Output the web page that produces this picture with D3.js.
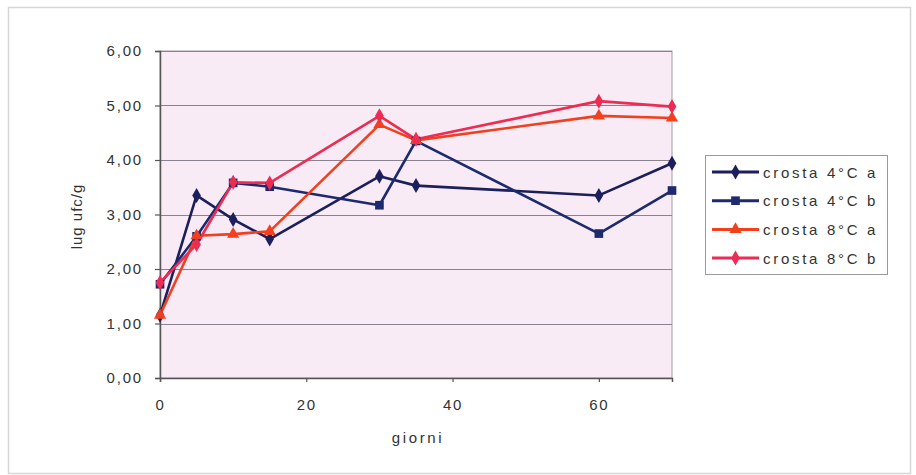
<!DOCTYPE html>
<html>
<head>
<meta charset="utf-8">
<script src="https://cdn.jsdelivr.net/npm/d3@7"></script>
<style>
  html, body { margin: 0; padding: 0; background: #ffffff; }
  svg { display: block; }
  text { font-family: "Liberation Sans", Arial, sans-serif; fill: #333; }
</style>
</head>
<body>
<svg id="chart" width="916" height="475"></svg>
<script>
// ---- data ----
const days = [0, 5, 10, 15, 30, 35, 60, 70];
const crosta4a = [1.15, 3.35, 2.91, 2.55, 3.70, 3.53, 3.35, 3.94];
const crosta4b = [1.72, 2.60, 3.58, 3.51, 3.17, 4.35, 2.65, 3.44];
const crosta8a = [1.15, 2.61, 2.64, 2.69, 4.65, 4.36, 4.81, 4.77];
const crosta8b = [1.75, 2.45, 3.59, 3.58, 4.81, 4.38, 5.08, 4.98];
const seriesNames = ["crosta 4°C a", "crosta 4°C b", "crosta 8°C a", "crosta 8°C b"];
const yTicks = [0, 1, 2, 3, 4, 5, 6];
const xTicks = [0, 20, 40, 60];
const yLabel = "lug ufc/g";
const xLabel = "giorni";

const series = [
  { name: seriesNames[0], values: crosta4a, color: "#1b1f5c", symbol: d3.symbolDiamond, size: 65 },
  { name: seriesNames[1], values: crosta4b, color: "#1d2a6e", symbol: d3.symbolSquare, size: 75 },
  { name: seriesNames[2], values: crosta8a, color: "#f2401f", symbol: d3.symbolTriangle, size: 65 },
  { name: seriesNames[3], values: crosta8b, color: "#ec2c52", symbol: d3.symbolDiamond, size: 65 }
];

const svg = d3.select("#chart");

// outer frame
svg.append("rect").attr("x", 8.5).attr("y", 7.5).attr("width", 902).attr("height", 466)
  .attr("fill", "#fff").attr("stroke", "#d6d6d6").attr("stroke-width", 1.5);

const L = 160, R = 672, T = 51, B = 378;
const x = d3.scaleLinear().domain([0, 70]).range([L, R]);
const y = d3.scaleLinear().domain([0, 6]).range([B, T]);

// plot background
svg.append("rect").attr("x", L).attr("y", T).attr("width", R - L).attr("height", B - T)
  .attr("fill", "#f9ebf5").attr("stroke", "#a89aa6").attr("stroke-width", 1);

// gridlines
svg.append("g").selectAll("line").data(yTicks.filter(d => d > 0)).join("line")
  .attr("x1", L).attr("x2", R)
  .attr("y1", d => Math.round(y(d)) + 0.5).attr("y2", d => Math.round(y(d)) + 0.5)
  .attr("stroke", "#8a8290").attr("stroke-width", 1.2);

// axes
const fmt = d => d3.format(".2f")(d).replace(".", ",");
const yAxis = d3.axisLeft(y).tickValues(yTicks).tickFormat(fmt).tickSize(5).tickPadding(12);
const gy = svg.append("g").attr("transform", `translate(${L},0)`).call(yAxis);
const xAxis = d3.axisBottom(x).tickValues(xTicks).tickFormat(d3.format("d")).tickSize(4).tickPadding(17);
const gx = svg.append("g").attr("transform", `translate(0,${B})`).call(xAxis);
[gy, gx].forEach(g => {
  g.selectAll(".domain").attr("stroke", "#555").attr("stroke-width", 1.5);
  g.selectAll(".tick line").attr("stroke", "#555").attr("stroke-width", 1.2);
  g.selectAll("text").style("font-family", "'Liberation Sans', Arial, sans-serif")
    .style("font-size", "15px").style("letter-spacing", "1.8px").attr("fill", "#333");
});

// axis titles
svg.append("text").attr("transform", `translate(82,${(T + B) / 2 + 2}) rotate(-90)`)
  .attr("text-anchor", "middle").style("font-size", "15px").style("letter-spacing", "1px")
  .text(yLabel);
svg.append("text").attr("x", 418).attr("y", 443).attr("text-anchor", "middle")
  .style("font-size", "15px").style("letter-spacing", "2.6px").text(xLabel);

// lines + markers
const line = d3.line().x((d, i) => x(days[i])).y(d => y(d));
series.forEach(s => {
  svg.append("path").datum(s.values).attr("d", line)
    .attr("fill", "none").attr("stroke", s.color).attr("stroke-width", 2.6)
    .attr("stroke-linejoin", "round");
});
series.forEach(s => {
  svg.append("g").selectAll("path").data(s.values).join("path")
    .attr("transform", (d, i) => `translate(${x(days[i])},${y(d)})`)
    .attr("d", d3.symbol().type(s.symbol).size(s.size))
    .attr("fill", s.color);
});

// legend
const lg = svg.append("g");
lg.append("rect").attr("x", 705.5).attr("y", 155.5).attr("width", 182).attr("height", 119)
  .attr("fill", "#fff").attr("stroke", "#9a9a9a").attr("stroke-width", 1);
series.forEach((s, i) => {
  const yy = 172 + i * 28.7;
  lg.append("line").attr("x1", 712).attr("x2", 759).attr("y1", yy).attr("y2", yy)
    .attr("stroke", s.color).attr("stroke-width", 3);
  lg.append("path").attr("transform", `translate(735.5,${yy})`)
    .attr("d", d3.symbol().type(s.symbol).size(s.size)).attr("fill", s.color);
  lg.append("text").attr("x", 763).attr("y", yy + 5.5)
    .style("font-size", "15px").style("letter-spacing", "2.7px").text(s.name);
});
</script>
</body>
</html>
